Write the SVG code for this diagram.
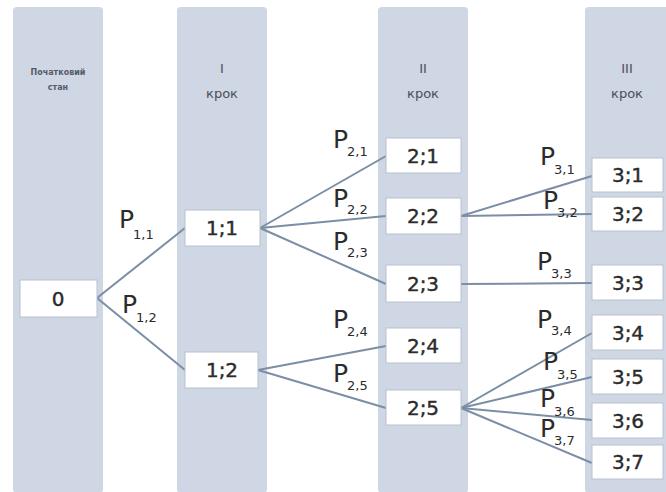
<svg xmlns="http://www.w3.org/2000/svg" width="666" height="492" viewBox="0 0 666 492">
<style>
.col{fill:#cfd6e4}
.box{fill:#ffffff;stroke:#b9c1ce;stroke-width:1}
.nt{font-family:"DejaVu Sans",sans-serif;font-size:20px;fill:#2b2b2b;stroke:#2b2b2b;stroke-width:0.4;text-anchor:middle}
.ht{font-family:"DejaVu Sans",sans-serif;font-size:13px;fill:#4a505a;text-anchor:middle}
.st{font-family:"DejaVu Sans",sans-serif;font-size:8px;font-weight:bold;fill:#555b66;text-anchor:middle}
.p{font-family:"DejaVu Sans",sans-serif;font-size:25px;fill:#2b2b2b}
.sub{font-size:13px}
.ln{stroke:#7b8ea5;stroke-width:2;fill:none}
</style>
<rect width="666" height="492" fill="#ffffff"/>
<g id="columns">
<rect class="col" x="13" y="7" width="90" height="486" rx="4"/>
<rect class="col" x="177" y="7" width="90" height="486" rx="4"/>
<rect class="col" x="378" y="7" width="90" height="486" rx="4"/>
<rect class="col" x="585" y="7" width="90" height="486" rx="4"/>
<text class="st" x="58" y="75">Початковий</text>
<text class="st" x="58" y="90">стан</text>
<text class="ht" x="222" y="73">I</text>
<text class="ht" x="222" y="98">крок</text>
<text class="ht" x="423" y="73">II</text>
<text class="ht" x="423" y="98">крок</text>
<text class="ht" x="627" y="73">III</text>
<text class="ht" x="627" y="98">крок</text>
</g>
<g id="connectors">
<line class="ln" x1="97" y1="298" x2="185" y2="228"/>
<line class="ln" x1="97" y1="298" x2="185" y2="370"/>
<line class="ln" x1="260" y1="228" x2="386" y2="156"/>
<line class="ln" x1="260" y1="228" x2="386" y2="216"/>
<line class="ln" x1="260" y1="228" x2="386" y2="284"/>
<line class="ln" x1="258" y1="370" x2="386" y2="346"/>
<line class="ln" x1="258" y1="370" x2="386" y2="408"/>
<line class="ln" x1="461" y1="216" x2="592" y2="176"/>
<line class="ln" x1="461" y1="216" x2="592" y2="214"/>
<line class="ln" x1="461" y1="284" x2="592" y2="283"/>
<line class="ln" x1="461" y1="408" x2="592" y2="333"/>
<line class="ln" x1="461" y1="408" x2="592" y2="377"/>
<line class="ln" x1="461" y1="408" x2="592" y2="420"/>
<line class="ln" x1="461" y1="408" x2="592" y2="463"/>
</g>
<g id="labels">
<text class="p" x="119" y="228">P<tspan class="sub" dx="-1" dy="11">1,1</tspan></text>
<text class="p" x="122" y="313">P<tspan class="sub" dx="-1" dy="9">1,2</tspan></text>
<text class="p" x="333" y="148">P<tspan class="sub" dx="-1" dy="8">2,1</tspan></text>
<text class="p" x="333" y="207">P<tspan class="sub" dx="-1" dy="7">2,2</tspan></text>
<text class="p" x="333" y="250">P<tspan class="sub" dx="-1" dy="7">2,3</tspan></text>
<text class="p" x="333" y="328">P<tspan class="sub" dx="-1" dy="8">2,4</tspan></text>
<text class="p" x="333" y="382">P<tspan class="sub" dx="-1" dy="8">2,5</tspan></text>
<text class="p" x="540" y="165">P<tspan class="sub" dx="-1" dy="9">3,1</tspan></text>
<text class="p" x="543" y="209">P<tspan class="sub" dx="-1" dy="8">3,2</tspan></text>
<text class="p" x="537" y="270">P<tspan class="sub" dx="-1" dy="8">3,3</tspan></text>
<text class="p" x="537" y="328">P<tspan class="sub" dx="-1" dy="7">3,4</tspan></text>
<text class="p" x="543" y="370">P<tspan class="sub" dx="-1" dy="9">3,5</tspan></text>
<text class="p" x="540" y="407">P<tspan class="sub" dx="-1" dy="9">3,6</tspan></text>
<text class="p" x="540" y="437">P<tspan class="sub" dx="-1" dy="8">3,7</tspan></text>
</g>
<g id="n0"><rect class="box" x="20" y="280" width="77" height="37"/><text class="nt" x="58" y="306">0</text></g>
<g id="n1_1"><rect class="box" x="185" y="210" width="75" height="36"/><text class="nt" x="222" y="235">1;1</text></g>
<g id="n1_2"><rect class="box" x="185" y="352" width="73" height="36"/><text class="nt" x="222" y="377">1;2</text></g>
<g id="n2_1"><rect class="box" x="386" y="138" width="75" height="35"/><text class="nt" x="423" y="163">2;1</text></g>
<g id="n2_2"><rect class="box" x="386" y="198" width="75" height="36"/><text class="nt" x="423" y="223">2;2</text></g>
<g id="n2_3"><rect class="box" x="386" y="265" width="75" height="37"/><text class="nt" x="423" y="291">2;3</text></g>
<g id="n2_4"><rect class="box" x="386" y="328" width="75" height="35"/><text class="nt" x="423" y="353">2;4</text></g>
<g id="n2_5"><rect class="box" x="386" y="390" width="75" height="35"/><text class="nt" x="423" y="415">2;5</text></g>
<g id="n3_1"><rect class="box" x="592" y="158" width="71" height="34"/><text class="nt" x="628" y="182">3;1</text></g>
<g id="n3_2"><rect class="box" x="592" y="197" width="71" height="34"/><text class="nt" x="628" y="221">3;2</text></g>
<g id="n3_3"><rect class="box" x="592" y="265" width="71" height="35"/><text class="nt" x="628" y="290">3;3</text></g>
<g id="n3_4"><rect class="box" x="592" y="315" width="71" height="35"/><text class="nt" x="628" y="340">3;4</text></g>
<g id="n3_5"><rect class="box" x="592" y="359" width="71" height="35"/><text class="nt" x="628" y="384">3;5</text></g>
<g id="n3_6"><rect class="box" x="592" y="403" width="71" height="35"/><text class="nt" x="628" y="428">3;6</text></g>
<g id="n3_7"><rect class="box" x="592" y="445" width="71" height="34"/><text class="nt" x="628" y="469">3;7</text></g>
</svg>
